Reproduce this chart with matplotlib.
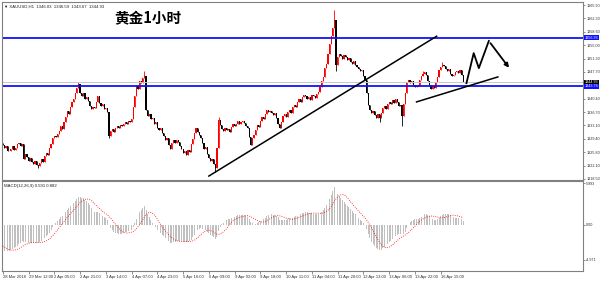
import numpy as np
import matplotlib
matplotlib.use("Agg")
from matplotlib import pyplot as plt

plt.rcParams['font.family'] = ['Liberation Sans', 'DejaVu Sans']

#%% Data (XAUUSD H1 closes)
close = [
    1327.8, 1326.9, 1327.5, 1326.2, 1326.0, 1326.8, 1327.4, 1326.5, 1327.0, 1327.9, 1328.3, 1327.6, 1328.0,
    1324.0, 1325.2, 1324.6, 1323.5, 1324.1, 1323.0, 1322.6, 1323.4, 1322.3, 1322.0,
    1322.8, 1323.9, 1323.2, 1324.8, 1325.6, 1325.1, 1326.9, 1328.0, 1329.7,
    1330.3, 1329.9, 1330.8, 1331.5, 1332.8, 1332.2, 1334.0, 1335.4, 1336.9, 1336.2, 1338.1, 1339.4, 1340.3, 1341.8, 1343.2, 1344.4,
    1342.0, 1341.2, 1341.8, 1340.4, 1340.9, 1339.8,
    1338.5, 1337.6, 1338.2, 1337.9, 1339.6, 1341.2,
    1339.3, 1338.4, 1338.9, 1337.5, 1337.9, 1336.8,
    1330.3,
    1331.6, 1332.1, 1331.2, 1332.5, 1333.0, 1332.4, 1333.3, 1332.8, 1333.6, 1334.1, 1333.5, 1334.4, 1334.0, 1334.8,
    1338.0, 1341.0, 1343.8, 1343.0, 1345.2, 1344.6, 1346.0, 1346.5,
    1337.3,
    1335.6, 1336.2, 1334.8, 1335.1, 1333.6, 1333.9, 1332.5, 1331.8, 1332.3, 1330.9, 1330.2, 1329.0, 1329.6, 1327.8, 1326.6,
    1328.2, 1329.2, 1328.4, 1329.0, 1328.6, 1327.5, 1326.8, 1325.6, 1326.2, 1325.0,
    1326.5, 1325.8, 1327.9, 1329.4, 1331.0, 1332.4,
    1331.2, 1330.5, 1329.8, 1328.2, 1326.7, 1327.3, 1325.4, 1324.3, 1323.5, 1324.0, 1322.6, 1321.6,
    1327.0, 1334.6,
    1333.1, 1332.2, 1331.6, 1332.4, 1331.8, 1332.0, 1331.2, 1332.6, 1333.4, 1332.8, 1333.6, 1334.2, 1333.5, 1334.0, 1334.4, 1333.7, 1332.9, 1332.4,
    1330.0, 1327.8, 1329.8,
    1330.5, 1331.9, 1333.2, 1332.6, 1334.3, 1335.4, 1334.8, 1336.2, 1337.3,
    1336.8, 1337.0, 1336.4, 1335.9, 1336.5, 1335.0, 1333.6, 1332.4,
    1334.0, 1335.6, 1336.3, 1335.4, 1336.8, 1337.4, 1336.6, 1338.0, 1338.7, 1338.1, 1339.5, 1340.2, 1339.6, 1340.8, 1341.5, 1341.2,
    1340.4, 1340.9, 1340.1, 1341.3, 1341.0, 1340.6, 1341.7, 1342.2,
    1343.5, 1345.3, 1346.2, 1348.8, 1349.9, 1352.6, 1355.2, 1357.4, 1359.6, 1361.8,
    1349.5,
    1351.8, 1352.6, 1352.0, 1351.3, 1352.2, 1351.6, 1350.8, 1351.4, 1350.5, 1349.9, 1350.6, 1349.6, 1349.0, 1348.5, 1347.8, 1348.3, 1346.6, 1345.5,
    1342.0, 1338.7, 1337.3, 1336.4, 1337.0, 1335.9, 1335.2, 1336.1, 1335.1,
    1336.4, 1337.8, 1338.3, 1337.6, 1338.8, 1339.4, 1338.9, 1340.0, 1339.3, 1340.2, 1339.6, 1338.4, 1338.7,
    1335.6,
    1338.8, 1342.0, 1344.8, 1345.6,
    1344.6, 1345.2, 1344.0, 1343.5, 1344.2, 1343.8, 1345.4, 1346.6, 1347.2,
    1347.6, 1346.9, 1345.2, 1344.0, 1343.1, 1343.7, 1343.3,
    1345.0, 1346.4, 1348.1, 1349.0, 1349.5,
    1349.2, 1348.6, 1347.9, 1348.4, 1347.2, 1346.5, 1346.9,
    1347.6, 1348.0, 1347.4, 1348.2, 1346.8, 1344.9,
]
first_open = 1328.3
wick_high = {47: 1345.0, 88: 1348.0, 134: 1335.3, 206: 1364.5, 261: 1348.0, 273: 1350.3}
wick_low = {22: 1321.4, 66: 1329.6, 132: 1320.4, 207: 1348.0, 234: 1334.1, 248: 1333.0}

# MACD(12,26,9) state carried in from before the visible window
ema_seed = (1331.8, 1335.4)
main_before = [-2.1, -2.4, -2.7, -2.9, -3.1, -3.3, -3.4, -3.5]

upper_level = 1356.93
lower_level = 1343.76
last_price = 1344.93
price_ticks = [1318.50, 1322.10, 1325.80, 1329.40, 1333.10, 1336.70, 1340.40,
               1347.70, 1351.30, 1355.00, 1358.60, 1362.30, 1365.90]
time_labels = ["28 Mar 2018", "29 Mar 12:00", "2 Apr 05:00", "2 Apr 21:00", "3 Apr 14:00",
               "4 Apr 07:00", "4 Apr 23:00", "5 Apr 16:00", "6 Apr 09:00", "9 Apr 02:00",
               "9 Apr 18:00", "10 Apr 11:00", "11 Apr 04:00", "11 Apr 20:00", "12 Apr 13:00",
               "13 Apr 06:00", "13 Apr 22:00", "16 Apr 15:00"]

# hand-drawn analysis lines (bar index, price)
support_line = [(128, 1319.3), (269.5, 1357.4)]
small_support = [(257, 1339.5), (307.5, 1346.3)]
projection = [(288, 1344.6), (292.5, 1352.8), (295.7, 1348.7), (301.9, 1356.1), (315.5, 1348.2)]

#%% Candles
close = np.array(close)
n = len(close)
idx = np.arange(n)
opens = np.concatenate([[first_open], close[:-1]])
highs = np.maximum(opens, close)
lows = np.minimum(opens, close)
for k, v in wick_high.items():
    highs[k] = v
for k, v in wick_low.items():
    lows[k] = v
cols = np.where(close >= opens, '#ff0000', '#000000')

#%% MACD
e12, e26 = ema_seed
main = []
for c in close:
    e12 += (c - e12) * 2 / 13
    e26 += (c - e26) * 2 / 27
    main.append(e12 - e26)
ext = main_before + main
signal = [np.mean(ext[i:i + 9]) for i in range(n)]

#%% Figure
fig = plt.figure(figsize=(6, 2.81), dpi=100)
xlim = (-0.5, 360.4)
ax = fig.add_axes([2 / 600, 101 / 281, 581 / 600, 178 / 281])
ax2 = fig.add_axes([2 / 600, 10 / 281, 581 / 600, 90 / 281])

ax.vlines(idx, lows, highs, colors=cols, lw=0.6)
body = np.maximum(np.abs(close - opens), 0.15)
ax.bar(idx, body, bottom=np.minimum(opens, close), width=0.75, color=cols, linewidth=0)

ax.axhline(last_price, color='#c8c8c8', lw=0.7)
ax.axhline(upper_level, color='#1010ff', lw=1.3)
ax.axhline(lower_level, color='#1010ff', lw=1.3)

ax.plot(*zip(*support_line), color='black', lw=1.1)
ax.plot(*zip(*small_support), color='black', lw=1.1)
ax.plot([p[0] for p in projection[:-1]], [p[1] for p in projection[:-1]], color='black', lw=1.3)
ax.annotate('', xy=projection[-1], xytext=projection[-2],
            arrowprops=dict(arrowstyle='-|>', color='black', lw=1.3, mutation_scale=6))

ax.set_xlim(*xlim)
ax.set_ylim(1318.22, 1366.72)
ax.yaxis.tick_right()
ax.set_yticks(price_ticks)
ax.set_yticklabels(["%.2f" % t for t in price_ticks])
ax.set_xticks([])
ax.tick_params(axis='y', labelsize=2.7, length=1.5, width=0.5, color='#606060', pad=0.8, labelcolor='#303030')

for val, fc in [(upper_level, '#1010ff'), (last_price, '#000000'), (lower_level, '#1010ff')]:
    ax.text(1.003, val, "%.2f" % val, transform=ax.get_yaxis_transform(), fontsize=2.7, color='white',
            va='center', ha='left', bbox=dict(boxstyle='square,pad=0.12', fc=fc, ec='none'))

ax.text(0.004, 0.985, "\u25bc XAUUSD,H1  1346.03  1346.59  1343.67  1344.93", transform=ax.transAxes,
        fontsize=3.1, va='top', ha='left', color='#202020')
ax.text(146 / 581, 0.91, "黄金1小时", transform=ax.transAxes, fontsize=10.5, fontweight='bold',
        family=['Noto Sans CJK SC', 'DejaVu Sans'], ha='center', va='center')

# MACD panel
ax2.bar(idx, main, width=0.55, color='#c0c0c0', linewidth=0)
ax2.plot(idx, signal, color='#ff0000', lw=0.6, ls=':')
ax2.set_xlim(*xlim)
ax2.set_ylim(-6.6, 6.3)
ax2.yaxis.tick_right()
ax2.set_yticks([5.993, 0.0, -4.971])
ax2.set_yticklabels(["5.993", "0.00", "-4.971"])
ax2.tick_params(axis='y', labelsize=2.7, length=1.5, width=0.5, color='#606060', pad=0.8, labelcolor='#303030')
ax2.set_xticks(np.arange(len(time_labels)) * 16)
ax2.set_xticklabels(time_labels, ha='left')
ax2.tick_params(axis='x', labelsize=3.0, length=2, width=0.5, color='#606060', pad=1, labelcolor='#303030')
ax2.text(0.004, 0.97, "MACD(12,26,9) 0.591 0.882", transform=ax2.transAxes,
         fontsize=3.1, va='top', ha='left', color='#202020')

for a in (ax, ax2):
    for s in a.spines.values():
        s.set_color('#808080')
        s.set_linewidth(0.8)

fig.savefig("out.png", dpi=100, facecolor='white')
